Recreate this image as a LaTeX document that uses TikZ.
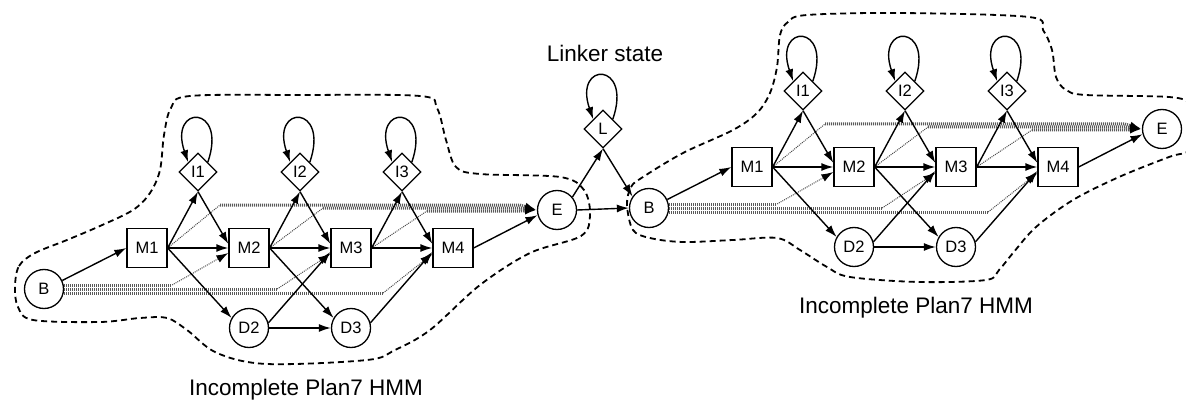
\documentclass[tikz,border=0pt]{standalone}
\usepackage{fontspec}
\setmainfont{Liberation Sans}
\usetikzlibrary{shapes.geometric,arrows.meta}

\tikzset{
  nd/.style={draw, fill=white, line width=1.3pt, inner sep=0pt, font=\fontsize{16.5}{16.5}\selectfont},
  st/.style={nd, circle, minimum size=39pt},
  mt/.style={nd, rectangle, minimum width=40pt, minimum height=39pt},
  it/.style={nd, diamond, minimum size=38pt},
  ar/.style={line width=1.4pt, -{Latex[length=12pt,width=8pt]}},
  tip/.style={-{Latex[length=12pt,width=8pt,black]}},
  dt/.style={line width=1pt, black!70, dash pattern=on 1pt off 1pt},
  bund/.style={line width=3pt, black!65, dash pattern=on 1pt off 1pt},
  fence/.style={line width=1.8pt, dash pattern=on 6pt off 4pt},
  captxt/.style={font=\fontsize{22.5}{24}\selectfont, anchor=base},
}

% one Plan7 profile: begin, match, insert, delete and end states
\newcommand\planseven{%
  \node[st] (B)  at (44,289)  {B};
  \node[mt] (M1) at (147,248) {M1};
  \node[mt] (M2) at (249,248) {M2};
  \node[mt] (M3) at (351,248) {M3};
  \node[mt] (M4) at (453,248) {M4};
  \node[it] (I1) at (198,172) {I1};
  \node[it] (I2) at (300,172) {I2};
  \node[it] (I3) at (402,172) {I3};
  \node[st] (D2) at (249,328) {D2};
  \node[st] (D3) at (351,328) {D3};
  \node[st] (E)  at (557,210) {E};
  % entry transitions from B
  \draw[bund] ([yshift=4pt]B.east) -- ++(108,0) coordinate (e2);
  \draw[dt,tip] (e2) -- ([yshift=-5pt]M2.west);
  \draw[bund] (B.east) -- ++(213,0) coordinate (e3);
  \draw[dt,tip] (e3) -- ([yshift=-6pt]M3.west);
  \draw[bund] ([yshift=-4pt]B.east) -- ++(319,0) coordinate (e4);
  \draw[dt,tip] (e4) -- ([yshift=-6pt]M4.west);
  % exit transitions to E
  \draw[dt] (M1.east) -- (220,205) coordinate (x1);
  \draw[bund,tip] (x1) -- (520,205) -- (E.west);
  \draw[dt] (M2.east) -- (323,208) coordinate (x2);
  \draw[bund,tip] (x2) -- (520,208) -- (E.west);
  \draw[dt] (M3.east) -- (427,211) coordinate (x3);
  \draw[bund,tip] (x3) -- (520,211) -- (E.west);
  % core transitions
  \draw[ar] (B.25) -- (M1.west);
  \draw[ar] (M1.east) -- (I1.south);
  \draw[ar] (M1.east) -- (M2.west);
  \draw[ar] (M1.east) -- (D2.150);
  \draw[ar] (I1.south) -- ([yshift=4pt]M2.west);
  \draw[ar] (M2.east) -- (I2.south);
  \draw[ar] (M2.east) -- (M3.west);
  \draw[ar] (M2.east) -- (D3.150);
  \draw[ar] (I2.south) -- ([yshift=4pt]M3.west);
  \draw[ar] (D2.15) -- ([yshift=-4pt]M3.west);
  \draw[ar] (D2.east) -- (D3.west);
  \draw[ar] (M3.east) -- (I3.south);
  \draw[ar] (M3.east) -- (M4.west);
  \draw[ar] (I3.south) -- ([yshift=4pt]M4.west);
  \draw[ar] (D3.15) -- ([yshift=-4pt]M4.west);
  \draw[ar] (M4.east) -- (E.195);
  % insert self-loops
  \foreach \s in {I1,I2,I3}
    \draw[ar] (\s.north east) .. controls +(20,-58) and +(-20,-58) .. (\s.north west);
}

\begin{document}
\begin{tikzpicture}[x=1pt,y=-1pt]
  \useasboundingbox (0,0) rectangle (1186,401);
  \clip (0,0) rectangle (1186,401);

  % outlines of the two profiles
  \draw[fence] plot[smooth cycle, tension=0.55] coordinates {
    (15,287) (19,266) (35,253) (67,240) (100,226) (133,210) (150,193) (160,170)
    (164,135) (171,108) (190,96) (300,95) (420,96) (437,108) (446,140) (456,167)
    (480,174) (560,177) (584,190) (590,215) (581,236) (530,253) (480,285) (430,330)
    (395,350) (367,360) (267,364) (217,353) (187,330) (167,318) (140,318) (100,322)
    (33,320) (18,307)};
  \draw[fence] plot[smooth cycle, tension=0.55] coordinates {
    (627,205) (631,187) (643,177) (683,153) (733,130) (757,113) (770,93) (777,67)
    (780,35) (788,22) (807,15) (900,13) (1029,17) (1043,30) (1052,50) (1056,77)
    (1066,90) (1086,95) (1169,97) (1190,104) (1205,125) (1190,150) (1169,157)
    (1119,177) (1073,200) (1036,227) (1013,253) (999,270) (986,280) (919,282)
    (850,277) (827,267) (800,250) (777,238) (733,240) (683,242) (650,238) (633,230)};

  \begin{scope}[name prefix=a-]
    \planseven
  \end{scope}
  \begin{scope}[shift={(605,-81)}, name prefix=b-]
    \planseven
  \end{scope}

  % linker state joining the two profiles
  \node[it] (L) at (603,129) {L};
  \node[captxt] (lt) at (605,62) {Linker state};
  \draw[ar] (a-E.40) -- (L.south);
  \draw[ar] (L.south) -- (b-B.145);
  \draw[ar] (a-E.east) -- (b-B.west);
  \draw[ar] (L.north east) .. controls +(20,-58) and +(-20,-58) .. (L.north west);

  \node[captxt] (c1) at (306,395) {Incomplete Plan7 HMM};
  \node[captxt] (c2) at (916,313) {Incomplete Plan7 HMM};
\end{tikzpicture}
\end{document}
